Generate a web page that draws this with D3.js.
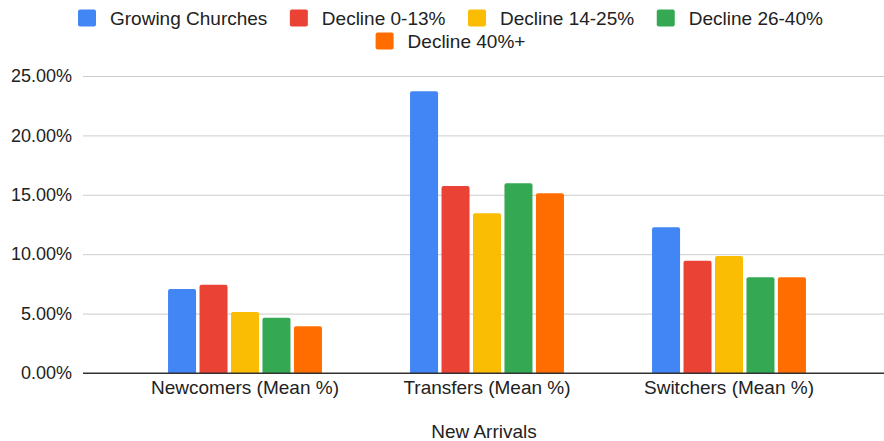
<!DOCTYPE html>
<html>
<head>
<meta charset="utf-8">
<script src="https://cdn.jsdelivr.net/npm/d3@7"></script>
<style>
	body { margin: 0; background: #fff; }
	text { font-family: "Liberation Sans", Arial, sans-serif; fill: #222; }
</style>
</head>
<body>
<script>
// chart values
var categories = ['Newcomers (Mean %)', 'Transfers (Mean %)', 'Switchers (Mean %)'];
var seriesNames = ['Growing Churches', 'Decline 0-13%', 'Decline 14-25%', 'Decline 26-40%', 'Decline 40%+'];
var growing = [0.0707, 0.2371, 0.1226];
var decline0to13 = [0.0743, 0.1574, 0.0945];
var decline14to25 = [0.0513, 0.1344, 0.0985];
var decline26to40 = [0.0466, 0.1597, 0.0806];
var decline40plus = [0.0393, 0.1513, 0.0806];
var yTicks = [0, 0.05, 0.10, 0.15, 0.20, 0.25];
var xTitle = 'New Arrivals';

var colors = ['#4285f4', '#ea4335', '#fbbc04', '#34a853', '#ff6d01'];
var allSeries = [growing, decline0to13, decline14to25, decline26to40, decline40plus];

var width = 884, height = 441,
	fontSize = 18,
	labelSize = 19,
	legendGap = 22.5;

var svg = d3.select('body').append('svg')
	.attr('width', width)
	.attr('height', height);

var y = d3.scaleLinear()
	.domain([0, 0.25])
	.range([373, 76]);

var x0 = d3.scaleBand()
	.domain(categories)
	.range([124, 850])
	.paddingInner(0.364)
	.paddingOuter(0.182);

var x1 = d3.scaleBand()
	.domain(seriesNames)
	.range([0, x0.bandwidth()])
	.paddingInner(0.11);

var color = d3.scaleOrdinal().domain(seriesNames).range(colors);

// gridlines + y labels
var yAxis = d3.axisLeft(y)
	.tickValues(yTicks)
	.tickFormat(d3.format('.2%'))
	.tickSize(-(width - 83))
	.tickPadding(11);

var gy = svg.append('g')
	.attr('transform', 'translate(83,0)')
	.call(yAxis);
gy.select('.domain').remove();
gy.selectAll('.tick line')
	.attr('stroke', function(d) { return d === 0 ? '#333' : '#ccc'; })
	.attr('stroke-width', function(d) { return d === 0 ? 1.2 : 1; });
gy.selectAll('.tick text')
	.attr('font-size', fontSize)
	.style('font-family', '"Liberation Sans", Arial, sans-serif')
	.attr('fill', '#222');

// bars
var groups = svg.append('g').selectAll('g')
	.data(categories)
	.join('g')
	.attr('transform', function(d) { return 'translate(' + x0(d) + ',0)'; });

groups.selectAll('path')
	.data(function(cat, ci) {
		return seriesNames.map(function(s, si) {
			return { name: s, value: allSeries[si][ci] };
		});
	})
	.join('path')
	.attr('fill', function(d) { return color(d.name); })
	.attr('d', function(d) {
		var bx = x1(d.name), bw = x1.bandwidth(),
			top = y(d.value), bot = y(0), r = 2;
		return 'M' + bx + ',' + bot +
			'V' + (top + r) +
			'Q' + bx + ',' + top + ' ' + (bx + r) + ',' + top +
			'H' + (bx + bw - r) +
			'Q' + (bx + bw) + ',' + top + ' ' + (bx + bw) + ',' + (top + r) +
			'V' + bot + 'Z';
	});

// redraw baseline on top of bars
svg.append('line')
	.attr('x1', 83).attr('x2', width)
	.attr('y1', y(0)).attr('y2', y(0))
	.attr('stroke', '#333')
	.attr('stroke-width', 1.2);

// category labels
svg.append('g').selectAll('text')
	.data(categories)
	.join('text')
	.attr('x', function(d) { return x0(d) + x0.bandwidth() / 2; })
	.attr('y', 394)
	.attr('text-anchor', 'middle')
	.attr('font-size', labelSize)
	.text(function(d) { return d; });

svg.append('text')
	.attr('x', 484)
	.attr('y', 438)
	.attr('text-anchor', 'middle')
	.attr('font-size', labelSize)
	.text(xTitle);

// legend, two centred rows
var legendRows = [seriesNames.slice(0, 4), seriesNames.slice(4)];
var rowY = [18, 41];
legendRows.forEach(function(row, ri) {
	var g = svg.append('g');
	var items = g.selectAll('g')
		.data(row)
		.join('g');
	items.append('rect')
		.attr('width', 18).attr('height', 17)
		.attr('rx', 2)
		.attr('y', -8.5)
		.attr('fill', function(d) { return color(d); });
	items.append('text')
		.attr('x', 32)
		.attr('y', 6.5)
		.attr('font-size', labelSize)
		.text(function(d) { return d; });
	var pos = 0;
	items.each(function() {
		var w = this.getBBox().width;
		d3.select(this).attr('transform', 'translate(' + pos + ',0)');
		pos += w + legendGap;
	});
	var total = pos - legendGap;
	g.attr('transform', 'translate(' + (450.5 - total / 2) + ',' + rowY[ri] + ')');
});
</script>
</body>
</html>
